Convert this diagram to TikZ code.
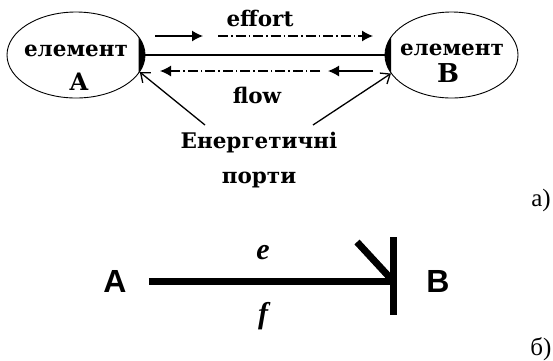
\documentclass[tikz,border=0pt]{standalone}
\usepackage{fontspec}
\setmainfont{Liberation Serif}
\setsansfont{Liberation Sans}
\newfontfamily\portfont{DejaVu Serif}
\usepackage{tikz}
\usetikzlibrary{shapes,arrows.meta,positioning,calc}

\begin{document}
\begin{tikzpicture}[x=1pt, y=-1pt, >={Latex[length=11pt,width=11pt]},
  elem/.style={draw, ellipse, inner sep=0pt, line width=0.9pt},
  elemtext/.style={font=\portfont\bfseries\fontsize{21.5}{22}\selectfont, inner sep=0pt},
  flowline/.style={->, line width=1.3pt, dash pattern=on 10pt off 3pt on 1.5pt off 3pt},
  portarrow/.style={-{Straight Barb[length=8pt,width=13pt]}, line width=1.3pt},
  bond/.style={line width=7pt}]
\useasboundingbox (0,0) rectangle (553,360);
% top: two elements joined by a power port pair
\node[elem, minimum width=138pt, minimum height=86pt](elA) at (76,55){};
\node[elem, minimum width=133pt, minimum height=86pt](elB) at (451.5,55){};
\node[elemtext](nameA) at (76,51){елемент};
\node[elemtext, font=\portfont\bfseries\fontsize{24}{24}\selectfont](letA) at (79,82){A};
\node[elemtext](nameB) at (452,50){елемент};
\node[elemtext, font=\portfont\bfseries\fontsize{26}{26}\selectfont](letB) at (448,73){B};
\fill ($(elA.center)+(-25:69pt and 43pt)$) arc[start angle=-25, end angle=25, x radius=69pt, y radius=43pt] -- cycle;
\fill ($(elB.center)+(155:66.5pt and 43pt)$) arc[start angle=155, end angle=205, x radius=66.5pt, y radius=43pt] -- cycle;
\draw[line width=1.6pt](elA.east)--(elB.west);
\node[elemtext](effort) at (260,18){effort};
\node[elemtext](flow) at (257,95){flow};
\draw[->, line width=1.3pt](155,36)--(203,36); \draw[flowline](218,36)--(373,36);
\draw[->, line width=1.3pt](373,71)--(328,71); \draw[flowline](320,71)--(160,71);
\node[align=center, font=\portfont\bfseries\fontsize{21.5}{35}\selectfont](ports) at (259,160){Енергетичні\\порти};
\coordinate (pa) at (205,125); \coordinate (pb) at (313,125);
\draw[portarrow](pa)--(elA.-15); \draw[portarrow](pb)--(elB.197);
\node[font=\fontsize{25}{25}\selectfont](labA) at (541,200){а)};
% bottom: the same port as a bond
\node[font=\sffamily\bfseries\fontsize{32}{32}\selectfont, inner sep=0pt](bA) at (115,281){A};
\node[font=\sffamily\bfseries\fontsize{32}{32}\selectfont, inner sep=0pt](bB) at (438,281){B};
\coordinate (bend) at (393,281);
\draw[bond](bA.east)++(22,0)--(bend);
\draw[bond](bend)++(0,-44)--++(0,78); \draw[bond](357,242)--(bend);
\node[font=\bfseries\itshape\fontsize{30}{30}\selectfont](e) at (263,253){e};
\node[font=\bfseries\itshape\fontsize{30}{30}\selectfont](f) at (263,316){f};
\node[font=\fontsize{25}{25}\selectfont](labB) at (541,349){б)};
\end{tikzpicture}
\end{document}
